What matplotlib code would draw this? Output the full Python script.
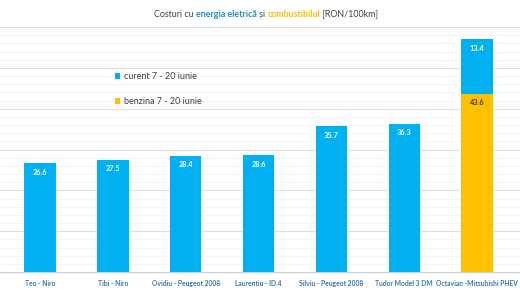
import matplotlib.pyplot as plt
from matplotlib.ticker import MultipleLocator

# Données
soferi = ["Teo - Niro", "Tibi - Niro", "Ovidiu - Peugeot 2008", "Laurentiu - ID.4",
          "Silviu - Peugeot 2008", "Tudor Model 3 DM", "Octavian -Mitsubishi PHEV"]
curent = [26.6, 27.5, 28.4, 28.6, 35.7, 36.3, 13.4]
benzina = [0, 0, 0, 0, 0, 0, 43.6]

ALBASTRU = "#00B0F0"
GALBEN = "#FFC000"

plt.rcParams['font.family'] = ['Lato', 'DejaVu Sans']

fig = plt.figure(figsize=(5.2, 2.92), dpi=100)
ax = fig.add_axes([0, 20 / 292, 1, 1 - 47 / 292])

x = list(range(len(soferi)))
ax.bar(x, benzina, width=0.43, color=GALBEN, label="benzina 7 - 20 iunie", zorder=3)
ax.bar(x, curent, width=0.43, bottom=benzina, color=ALBASTRU, label="curent 7 - 20 iunie", zorder=3)

# Etichete valori
for i in x:
    top = benzina[i] + curent[i]
    ax.text(i, top - 1.3, f"{curent[i]:.1f}", ha="center", va="top", color="white",
            fontsize=5.3, fontweight="bold", zorder=4)
    if benzina[i] > 0:
        ax.text(i, benzina[i] - 1.3, f"{benzina[i]:.1f}", ha="center", va="top",
                color="#404040", fontsize=5.3, fontweight="bold", zorder=4)

ax.set_xlim(-0.55, 6.59)
ax.set_ylim(0, 60)
ax.yaxis.set_major_locator(MultipleLocator(10))
ax.yaxis.set_minor_locator(MultipleLocator(2))
ax.grid(axis="y", which="major", color="#e0e0e0", lw=0.8, zorder=0)
ax.grid(axis="y", which="minor", color="#f3f3f3", lw=0.6, zorder=0)
ax.set_yticklabels([])
ax.tick_params(axis="y", which="both", length=0)
ax.tick_params(axis="x", length=0, pad=6)
ax.set_xticks(x)
ax.set_xticklabels(soferi, fontsize=4.9, fontweight="bold", color="#3a78a8")
for s in ["top", "right", "left"]:
    ax.spines[s].set_visible(False)
ax.spines["bottom"].set_color("#d0d0d0")

# Legenda
h, l = ax.get_legend_handles_labels()
ax.legend(h[::-1], l[::-1], loc="upper left", bbox_to_anchor=(0.205, 0.85), frameon=False,
          fontsize=6.5, handlelength=0.6, handleheight=0.6, handletextpad=0.4,
          labelspacing=1.8, labelcolor="#404040")

# Titlu colorat
fs = 6.4
t1 = fig.text(0.297, 0.952, "Costuri cu ", fontsize=fs, color="#404040", va="center")
t2 = ax.annotate("energia eletrică", xycoords=t1, xy=(1, 0), va="bottom",
                 fontsize=fs, color="#1f8fc8", fontweight="bold", annotation_clip=False)
t3 = ax.annotate(" și ", xycoords=t2, xy=(1, 0), va="bottom",
                 fontsize=fs, color="#404040", annotation_clip=False)
t4 = ax.annotate("combustibilul", xycoords=t3, xy=(1, 0), va="bottom",
                 fontsize=fs, color="#f5c400", fontweight="bold", annotation_clip=False)
ax.annotate(" [RON/100km]", xycoords=t4, xy=(1, 0), va="bottom",
            fontsize=fs, color="#404040", annotation_clip=False)

fig.savefig("out.png", dpi=100)
